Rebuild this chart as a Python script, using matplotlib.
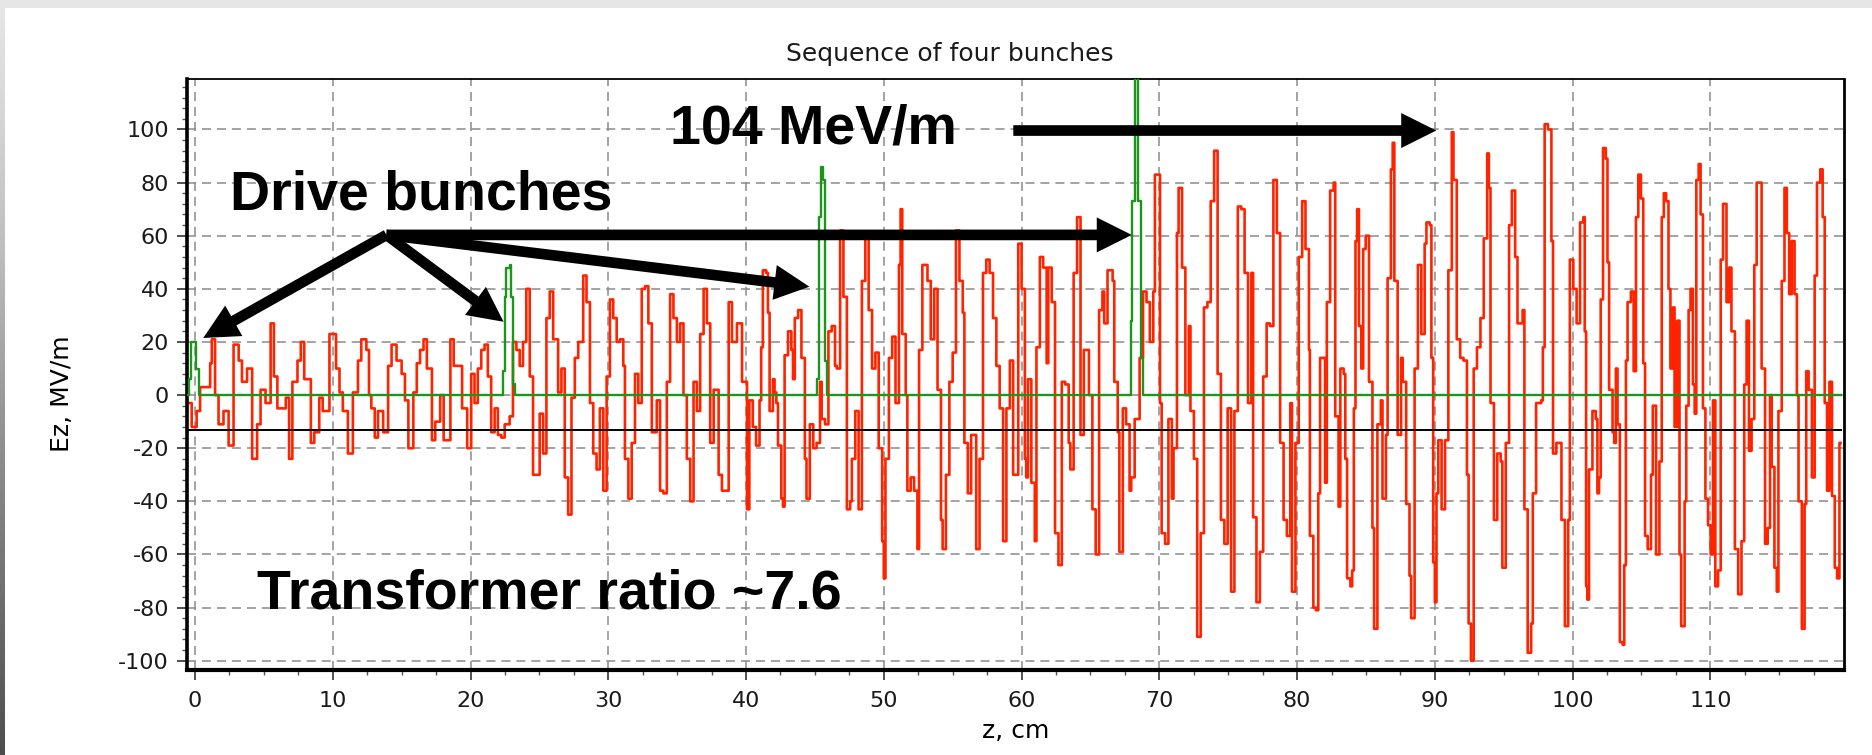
import numpy as np
import matplotlib
matplotlib.use("Agg")
import matplotlib.pyplot as plt
from matplotlib.ticker import MultipleLocator
from matplotlib.patches import Rectangle

# Ez (MV/m) along z (cm), segment by segment
red_0_20 = [(-0.49, -3), (-0.24, -12), (0.12, -6), (0.37, 3), (1.10, 12), (1.22, 21), (1.46, 0),
            (1.71, -11), (2.07, -6), (2.44, -19), (2.80, 19), (3.17, 13), (3.41, 5), (3.78, 10),
            (4.15, -24), (4.51, -11), (4.76, 2), (5.12, -3), (5.49, 27), (5.73, 7), (5.98, -5),
            (6.59, -1), (6.83, -24), (7.07, 5), (7.44, 13), (7.68, 20), (7.93, 6), (8.41, -18),
            (8.66, -14), (9.02, -1), (9.27, -6), (9.76, 23), (10.24, 10), (10.49, 1), (10.73, -6),
            (11.10, -22), (11.46, 1), (11.83, 13), (12.07, 21), (12.44, 17), (12.63, 0), (12.80, -5),
            (13.05, -16), (13.29, -6), (13.66, -14), (14.02, 11), (14.27, 19), (14.63, 13),
            (15.00, 8), (15.24, -2), (15.49, -20), (15.85, 1), (16.10, 12), (16.34, 17), (16.59, 21),
            (16.83, 10), (17.20, -17), (17.44, -10), (17.80, 0), (18.05, -17), (18.54, 21),
            (18.78, 11), (19.15, 11), (19.39, -5), (19.76, -20)]
red_20_40 = [(20.05, 8), (20.29, -3), (20.53, 10), (20.78, 17), (21.02, 19), (21.26, 7), (21.50, -14),
             (21.75, -5), (21.99, -15), (22.23, -16), (22.48, -11), (22.84, -8), (23.08, 20),
             (23.33, 17), (23.57, 11), (23.81, 20), (24.05, 40), (24.30, 7), (24.54, -30),
             (24.78, -30), (25.02, -7), (25.27, -22), (25.51, 29), (25.75, 39), (26.00, 21),
             (26.36, 1), (26.60, 10), (26.84, -31), (27.09, -45), (27.33, -1), (27.57, 14),
             (27.82, 20), (28.18, 45), (28.42, 35), (28.67, -3), (28.91, -22), (29.15, -28),
             (29.39, -5), (29.64, -36), (29.88, 7), (30.12, 36), (30.36, 29), (30.61, 20),
             (30.85, 21), (31.09, 11), (31.21, -24), (31.46, -39), (31.70, -18), (31.94, 8),
             (32.18, -3), (32.43, 40), (32.67, 41), (32.91, 27), (33.16, -14), (33.52, -2),
             (33.76, -36), (34.00, -37), (34.25, 5), (34.49, 38), (34.73, 29), (34.98, 20),
             (35.22, 27), (35.46, 0), (35.70, -24), (35.95, -40), (36.19, 5), (36.43, -6),
             (36.67, 23), (36.92, 40), (37.16, 27), (37.40, -18), (37.65, 2), (38.01, -30),
             (38.25, -36), (38.74, 35), (38.98, 20), (39.34, 27), (39.71, 5), (40.07, -43)]
red_40_60 = [(40.24, -2), (40.49, -12), (40.73, -19), (40.98, -2), (41.10, 18), (41.22, 47),
             (41.46, 46), (41.59, 31), (41.71, -6), (41.95, 6), (42.07, 1), (42.20, -3), (42.32, -19),
             (42.56, -39), (42.68, -42), (42.80, 15), (43.05, 24), (43.29, 17), (43.41, 6),
             (43.54, 29), (43.78, 32), (44.02, 14), (44.27, -24), (44.39, -39), (44.63, -11),
             (44.88, -20), (45.12, -18), (45.37, 5), (45.49, -9), (45.73, -11), (45.98, 24),
             (46.22, 26), (46.46, 11), (46.59, 10), (46.83, 62), (47.07, 37), (47.32, -43),
             (47.56, -40), (47.68, -24), (47.93, -6), (48.17, -43), (48.41, 43), (48.66, 59),
             (48.90, 32), (49.15, 10), (49.39, 16), (49.63, -20), (49.88, -55), (50.00, -69),
             (50.12, -24), (50.37, 14), (50.61, 22), (50.85, -3), (51.10, 49), (51.22, 70),
             (51.34, 23), (51.59, 0), (51.71, -36), (51.95, -31), (52.20, -36), (52.44, -58),
             (52.56, 17), (52.80, 49), (53.17, 43), (53.41, 21), (53.66, 40), (53.90, 2),
             (54.15, -47), (54.27, -58), (54.51, -30), (54.76, 5), (55.00, 16), (55.24, 62),
             (55.49, 43), (55.73, 31), (55.85, -18), (56.10, -37), (56.34, -15), (56.71, -58),
             (56.95, -24), (57.20, 46), (57.44, 51), (57.68, 46), (57.93, 29), (58.17, 11),
             (58.41, -5), (58.66, -55), (58.90, -5), (59.15, 13), (59.39, -30), (59.76, 57),
             (60.00, 40), (60.24, -24)]
red_60_80 = [(60.34, -31), (60.47, 6), (60.71, -33), (60.96, -55), (61.08, 18), (61.33, 52),
             (61.57, 48), (61.82, 12), (61.94, 48), (62.19, 35), (62.43, -52), (62.68, -64),
             (62.92, 5), (63.17, 4), (63.42, -18), (63.54, -28), (63.78, 46), (64.03, 67),
             (64.15, 67), (64.28, -15), (64.52, 17), (64.77, 17), (64.89, 0), (65.14, -43),
             (65.38, -60), (65.63, 32), (65.87, 39), (66.00, 27), (66.24, 47), (66.49, 47),
             (66.61, 43), (66.73, 5), (66.98, -14), (67.10, -59), (67.35, -5), (67.59, -11),
             (67.84, -36), (67.96, -31), (68.21, -9), (68.57, 14), (68.82, 39), (69.07, 35),
             (69.31, 20), (69.56, 39), (69.68, 83), (69.93, 83), (70.05, -3), (70.17, -52),
             (70.42, -56), (70.66, -9), (70.91, -39), (71.03, -20), (71.28, 61), (71.40, 78),
             (71.65, 48), (71.89, 0), (72.14, 26), (72.26, -6), (72.51, -24), (72.75, -91),
             (73.00, -52), (73.24, 33), (73.49, 35), (73.73, 73), (73.98, 92), (74.23, 8),
             (74.47, -47), (74.72, -56), (74.96, -5), (75.21, -74), (75.45, -6), (75.70, 71),
             (75.95, 70), (76.19, 46), (76.44, -3), (76.68, 46), (76.81, -46), (77.05, -78),
             (77.30, -59), (77.54, 7), (77.79, 27), (78.03, 26), (78.28, 81), (78.53, 61),
             (78.77, -18), (79.02, -47), (79.26, -53), (79.51, -3), (79.63, -74), (79.88, -18),
             (80.12, 52), (80.37, 73), (80.61, 55), (80.86, 17)]
red_80_100 = [(80.93, -53), (81.18, -80), (81.37, -81), (81.54, -37), (81.67, 14), (81.86, 14),
              (82.03, -33), (82.16, 35), (82.40, 77), (82.65, 80), (82.77, -8), (83.01, -42),
              (83.14, 10), (83.38, 8), (83.50, -24), (83.63, -69), (83.87, -72), (84.00, -66),
              (84.12, -5), (84.24, 58), (84.36, 70), (84.49, 26), (84.66, 10), (84.80, 55),
              (84.98, 60), (85.22, 5), (85.47, -50), (85.59, -88), (85.83, -11), (86.08, -2),
              (86.20, -39), (86.45, -15), (86.57, 44), (86.81, 85), (86.94, 95), (87.06, 43),
              (87.30, -15), (87.55, 14), (87.67, 5), (87.92, -41), (88.16, -68), (88.28, -84),
              (88.53, 10), (88.77, 49), (89.02, 23), (89.26, 57), (89.39, 65), (89.63, 64),
              (89.75, 14), (89.88, -63), (90.00, -78), (90.12, -37), (90.25, -17), (90.49, -43),
              (90.74, -17), (90.98, 47), (91.23, 99), (91.35, 81), (91.59, 21), (91.84, 14),
              (92.08, 13), (92.33, -30), (92.45, -86), (92.62, -100), (92.82, 10), (93.06, 18),
              (93.31, 29), (93.55, 59), (93.80, 91), (93.92, 78), (94.04, -3), (94.29, -47),
              (94.53, -22), (94.78, -25), (94.90, -65), (95.15, -18), (95.27, -18), (95.39, 64),
              (95.59, 77), (95.83, 52), (96.00, 27), (96.37, 32), (96.50, -43), (96.74, -97),
              (96.99, -86), (97.11, -37), (97.35, -3), (97.72, -2), (97.84, 18), (97.97, 102),
              (98.21, 100), (98.46, 58), (98.58, -22), (98.82, -18), (99.07, -18), (99.19, -47),
              (99.44, -87), (99.68, -47), (99.80, 51), (100.05, 40), (100.29, 27), (100.54, 65),
              (100.78, 67)]
red_100_120 = [(100.88, 24), (100.98, -72), (101.07, -77), (101.19, -28), (101.44, -6), (101.68, -9),
               (101.80, -37), (101.92, -31), (102.04, 36), (102.21, 93), (102.41, 89), (102.53, 50),
               (102.65, 2), (102.90, -14), (103.02, -18), (103.14, 10), (103.26, -11), (103.43, -93),
               (103.63, -94), (103.75, -64), (103.87, 13), (103.99, 35), (104.23, 39), (104.43, 9),
               (104.60, 67), (104.77, 83), (104.96, 74), (105.13, 12), (105.26, -53), (105.45, -58),
               (105.69, -30), (105.82, -4), (106.06, -60), (106.30, -25), (106.47, 67), (106.62, 76),
               (106.79, 73), (106.96, 40), (107.10, 10), (107.27, 33), (107.40, -12), (107.59, 28),
               (107.76, -60), (107.88, -87), (108.13, -40), (108.25, -4), (108.42, 32), (108.56, 40),
               (108.73, 4), (108.86, -7), (108.98, 81), (109.15, 87), (109.29, 68), (109.46, -5),
               (109.64, -39), (109.83, -49), (110.02, -60), (110.19, -2), (110.36, -72),
               (110.56, -66), (110.75, 51), (110.92, 72), (111.17, 35), (111.36, 48), (111.53, 24),
               (111.78, -58), (112.02, -75), (112.26, -55), (112.46, 4), (112.63, 28), (112.80, -21),
               (112.99, -9), (113.19, 49), (113.36, 80), (113.53, 80), (113.72, 10), (113.97, -56),
               (114.16, -50), (114.33, 0), (114.45, -27), (114.65, -65), (114.82, -74), (114.94, -6),
               (115.18, 43), (115.38, 78), (115.55, 61), (115.72, 38), (115.91, 58), (116.11, 38),
               (116.28, 0), (116.40, -40), (116.64, -88), (116.84, -41), (116.96, 9), (117.13, 2),
               (117.37, -31), (117.57, 45), (117.74, 80), (117.98, 85), (118.15, 67), (118.30, -3),
               (118.47, -36), (118.64, 5), (118.83, -38), (119.03, -65), (119.20, -69),
               (119.37, -18), (119.45, -18)]

# drive bunches (green)
bunch_pts = [(-0.58, 0), (-0.45, 6), (-0.30, 20), (0.05, 10), (0.30, 0),
             (22.35, 9), (22.48, 37), (22.60, 48), (22.84, 49), (22.96, 37), (23.08, 4), (23.20, 0),
             (45.12, 6), (45.29, 67), (45.42, 86), (45.60, 81), (45.75, 13), (45.90, 0),
             (67.91, 28), (68.05, 73), (68.20, 125), (68.45, 73), (68.70, 14), (68.82, 0),
             (119.5, 0)]

level_z = [-0.58, 119.45]
level_e = [-13, -13]

xticks = list(range(0, 111, 10))
yticks = list(range(-100, 101, 20))

plt.rcParams['font.family'] = ['DejaVu Sans']
plt.rcParams['axes.unicode_minus'] = False

fig = plt.figure(figsize=(18.72, 7.55), dpi=100)
fig.patch.set_facecolor('white')

# grey frame bits of the slide
fig.patches.append(Rectangle((0, 1 - 8 / 755), 1, 8 / 755, transform=fig.transFigure,
                             facecolor='#e6e6e6', edgecolor='none'))
strip = fig.add_axes([0, 0, 5 / 1872, 1])
strip.imshow(np.linspace(0, 1, 256)[:, None], aspect='auto', cmap='Greys',
             vmin=-0.3, vmax=1.4, extent=(0, 1, 0, 1))
strip.axis('off')

ax = fig.add_axes([187 / 1872, 1 - 670 / 755, (1844 - 187) / 1872, (670 - 79) / 755])

red = np.array(red_0_20 + red_20_40 + red_40_60 + red_60_80 + red_80_100 + red_100_120)
green = np.array(bunch_pts)

ax.plot(red[:, 0], red[:, 1], drawstyle='steps-post', color='#ff2400', lw=1.9, zorder=2)
ax.plot(level_z, level_e, color='black', lw=1.4, zorder=3)
ax.plot(green[:, 0], green[:, 1], drawstyle='steps-post', color='#1a961a', lw=1.7, zorder=4)

ax.set_xlim(-0.58, 119.7)
ax.set_ylim(-103.5, 119)
ax.set_xticks(xticks)
ax.set_yticks(yticks)
ax.xaxis.set_minor_locator(MultipleLocator(2.5))
ax.yaxis.set_minor_locator(MultipleLocator(4))
ax.tick_params(which='major', direction='out', length=7, width=1.2, color='#333333',
               labelsize=16, labelcolor='#1a1a1a')
ax.tick_params(which='minor', direction='out', length=3.5, width=1.0, color='#555555')
ax.tick_params(axis='y', pad=6)
ax.tick_params(axis='x', pad=8)

ax.grid(True, which='major', color='#8a8a8a', linestyle=(0, (5.9, 3.9)), linewidth=1.1)
ax.set_axisbelow(True)

for side, w in [('left', 2.6), ('bottom', 3.0), ('top', 1.3), ('right', 2.0)]:
    ax.spines[side].set_linewidth(w)
    ax.spines[side].set_color('black')

ax.set_xlabel('z, cm', fontsize=18, labelpad=6)
ax.set_ylabel('Ez, MV/m', fontsize=18)
ax.yaxis.set_label_coords(-0.068, 0.467)
ax.text(0.4605, 1.042, 'Sequence of four bunches', transform=ax.transAxes,
        ha='center', va='center', fontsize=18, color='#1a1a1a')

big = dict(fontsize=40, fontweight='bold', family=['Liberation Sans', 'DejaVu Sans'],
           color='black', zorder=6)
ax.text(2.54, 69.7, 'Drive bunches', ha='left', va='baseline', **big)
ax.text(34.5, 94.9, '104 MeV/m', ha='left', va='baseline', **big)
ax.text(4.5, -80.2, 'Transformer ratio ~7.6', ha='left', va='baseline', **big)

arrow = dict(arrowstyle='simple,head_length=1.05,head_width=1.05,tail_width=0.32',
             mutation_scale=24, fc='black', ec='none', shrinkA=0, shrinkB=0)
origin = (13.9, 60.3)
for tip in [(0.6, 21.5), (22.4, 27.6), (44.6, 40.8), (68.0, 60.3)]:
    ax.annotate('', xy=tip, xytext=origin, arrowprops=arrow, zorder=6)
ax.annotate('', xy=(90.1, 99.6), xytext=(59.4, 99.6), arrowprops=arrow, zorder=6)

fig.savefig('out.png', dpi=100, facecolor='white')
